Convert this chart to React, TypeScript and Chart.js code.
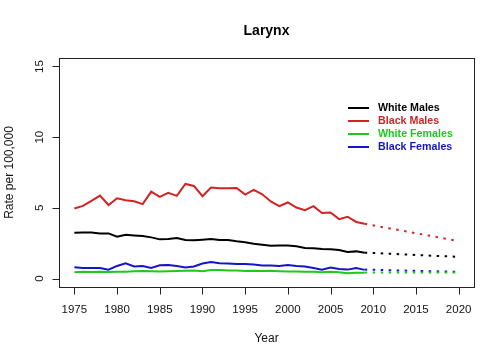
import React, { useEffect, useRef } from "react";
import { Chart, registerables } from "chart.js";

Chart.register(...registerables);

const years = [
  1975, 1976, 1977, 1978, 1979, 1980, 1981, 1982, 1983, 1984,
  1985, 1986, 1987, 1988, 1989, 1990, 1991, 1992, 1993, 1994,
  1995, 1996, 1997, 1998, 1999, 2000, 2001, 2002, 2003, 2004,
  2005, 2006, 2007, 2008, 2009,
];
const whiteMales = [
  3.24, 3.26, 3.26, 3.19, 3.19, 2.96, 3.1, 3.05, 3.0, 2.91,
  2.77, 2.8, 2.87, 2.73, 2.7, 2.75, 2.8, 2.73, 2.73, 2.63,
  2.56, 2.46, 2.39, 2.32, 2.33, 2.33, 2.28, 2.16, 2.14, 2.09,
  2.07, 2.02, 1.88, 1.92, 1.83,
];
const blackMales = [
  4.95, 5.14, 5.5, 5.87, 5.2, 5.68, 5.54, 5.47, 5.26, 6.15,
  5.77, 6.06, 5.85, 6.69, 6.55, 5.82, 6.43, 6.38, 6.38, 6.4,
  5.94, 6.27, 5.96, 5.45, 5.12, 5.38, 5.02, 4.84, 5.12, 4.63,
  4.67, 4.2, 4.37, 4.0, 3.87,
];
const whiteFemales = [
  0.45, 0.47, 0.46, 0.47, 0.46, 0.47, 0.48, 0.52, 0.53, 0.52,
  0.5, 0.52, 0.53, 0.55, 0.56, 0.52, 0.6, 0.6, 0.57, 0.56,
  0.54, 0.55, 0.53, 0.55, 0.52, 0.5, 0.49, 0.48, 0.47, 0.45,
  0.47, 0.45, 0.38, 0.4, 0.4,
];
const blackFemales = [
  0.8, 0.75, 0.75, 0.75, 0.63, 0.89, 1.08, 0.85, 0.89, 0.75,
  0.94, 0.96, 0.89, 0.78, 0.85, 1.06, 1.17, 1.08, 1.06, 1.03,
  1.03, 0.99, 0.92, 0.92, 0.89, 0.96, 0.89, 0.85, 0.75, 0.63,
  0.78, 0.68, 0.63, 0.75, 0.61,
];

const projYears = [2009, 2020];
const whiteMalesProj = [1.83, 1.53];
const blackMalesProj = [3.87, 2.65];
const whiteFemalesProj = [0.42, 0.42];
const blackFemalesProj = [0.63, 0.47];

const xTicks = [1975, 1980, 1985, 1990, 1995, 2000, 2005, 2010, 2015, 2020];
const yTicks = [0, 5, 10, 15];

const seriesNames = ["White Males", "Black Males", "White Females", "Black Females"];
const seriesColors = ["#000000", "#D02424", "#1EC81E", "#1414C8"];

const FONT = "'Liberation Sans', Arial, Helvetica, sans-serif";

const rPlotPlugin = {
  id: "rPlot",
  afterDraw(chart: any) {
    const ctx = chart.ctx as CanvasRenderingContext2D;
    const area = chart.chartArea;
    const xs = chart.scales.x;
    const ys = chart.scales.y;
    ctx.save();
    ctx.strokeStyle = "#222";
    ctx.fillStyle = "#000";
    ctx.lineWidth = 1;
    // box
    ctx.strokeRect(
      Math.round(area.left) + 0.5,
      Math.round(area.top) + 0.5,
      Math.round(area.right - area.left),
      Math.round(area.bottom - area.top)
    );
    // x axis
    const bottom = Math.round(area.bottom) + 0.5;
    ctx.beginPath();
    ctx.moveTo(Math.round(xs.getPixelForValue(xTicks[0])) + 0.5, bottom);
    ctx.lineTo(Math.round(xs.getPixelForValue(xTicks[xTicks.length - 1])) + 0.5, bottom);
    xTicks.forEach((t) => {
      const px = Math.round(xs.getPixelForValue(t)) + 0.5;
      ctx.moveTo(px, bottom);
      ctx.lineTo(px, bottom + 7);
    });
    ctx.stroke();
    ctx.font = `11.5px ${FONT}`;
    ctx.textAlign = "center";
    ctx.textBaseline = "alphabetic";
    ctx.fillStyle = "#111";
    xTicks.forEach((t) => {
      ctx.fillText(String(t), xs.getPixelForValue(t), 312.5);
    });
    // y axis
    const left = Math.round(area.left) + 0.5;
    ctx.beginPath();
    ctx.moveTo(left, Math.round(ys.getPixelForValue(yTicks[0])) + 0.5);
    ctx.lineTo(left, Math.round(ys.getPixelForValue(yTicks[yTicks.length - 1])) + 0.5);
    yTicks.forEach((t) => {
      const py = Math.round(ys.getPixelForValue(t)) + 0.5;
      ctx.moveTo(left, py);
      ctx.lineTo(left - 7, py);
    });
    ctx.stroke();
    yTicks.forEach((t) => {
      ctx.save();
      ctx.translate(43, ys.getPixelForValue(t));
      ctx.rotate(-Math.PI / 2);
      ctx.textAlign = "center";
      ctx.textBaseline = "alphabetic";
      ctx.fillText(String(t), 0, 0);
      ctx.restore();
    });
    // axis titles
    ctx.font = `12px ${FONT}`;
    ctx.textAlign = "center";
    ctx.fillText("Year", (area.left + area.right) / 2, 341.5);
    ctx.save();
    ctx.translate(13, (area.top + area.bottom) / 2);
    ctx.rotate(-Math.PI / 2);
    ctx.fillText("Rate per 100,000", 0, 0);
    ctx.restore();
    // title
    ctx.font = `bold 14px ${FONT}`;
    ctx.fillStyle = "#000";
    ctx.fillText("Larynx", (area.left + area.right) / 2, 34.5);
    // legend
    ctx.font = `bold 10.7px ${FONT}`;
    ctx.textAlign = "left";
    ctx.textBaseline = "middle";
    ctx.lineWidth = 2;
    const rows = [108, 121, 134, 147];
    seriesNames.forEach((name, i) => {
      ctx.strokeStyle = seriesColors[i];
      ctx.beginPath();
      ctx.moveTo(348, rows[i]);
      ctx.lineTo(369, rows[i]);
      ctx.stroke();
      ctx.fillStyle = seriesColors[i];
      ctx.fillText(name, 378, rows[i]);
    });
    ctx.restore();
  },
};

export default function App() {
  const ref = useRef<HTMLCanvasElement | null>(null);
  useEffect(() => {
    if (!ref.current) return;
    const solid = [whiteMales, blackMales, whiteFemales, blackFemales];
    const proj = [whiteMalesProj, blackMalesProj, whiteFemalesProj, blackFemalesProj];
    const datasets: any[] = [];
    solid.forEach((vals, i) => {
      datasets.push({
        label: seriesNames[i],
        data: years.map((y, j) => ({ x: y, y: vals[j] })),
        borderColor: seriesColors[i],
        borderWidth: 2,
        pointRadius: 0,
        tension: 0,
        fill: false,
      });
    });
    proj.forEach((vals, i) => {
      datasets.push({
        label: seriesNames[i] + " projection",
        data: projYears.map((y, j) => ({ x: y, y: vals[j] })),
        borderColor: seriesColors[i],
        borderWidth: 2,
        borderDash: [2.5, 5.5],
        pointRadius: 0,
        tension: 0,
        fill: false,
      });
    });
    const chart = new Chart(ref.current, {
      type: "line",
      data: { datasets },
      options: {
        responsive: false,
        animation: false,
        devicePixelRatio: 1,
        layout: { padding: { left: 59, right: 30, top: 58, bottom: 73 } },
        scales: {
          x: { type: "linear", min: 1973.2, max: 2021.8, display: false },
          y: { type: "linear", min: -0.6, max: 15.6, display: false },
        },
        plugins: {
          legend: { display: false },
          title: { display: false },
          tooltip: { enabled: false },
        },
      },
      plugins: [rPlotPlugin],
    });
    return () => chart.destroy();
  }, []);
  return (
    <div style={{ position: "absolute", left: 0, top: 0, width: 504, height: 360, background: "#fff" }}>
      <canvas ref={ref} width={504} height={360} />
    </div>
  );
}
